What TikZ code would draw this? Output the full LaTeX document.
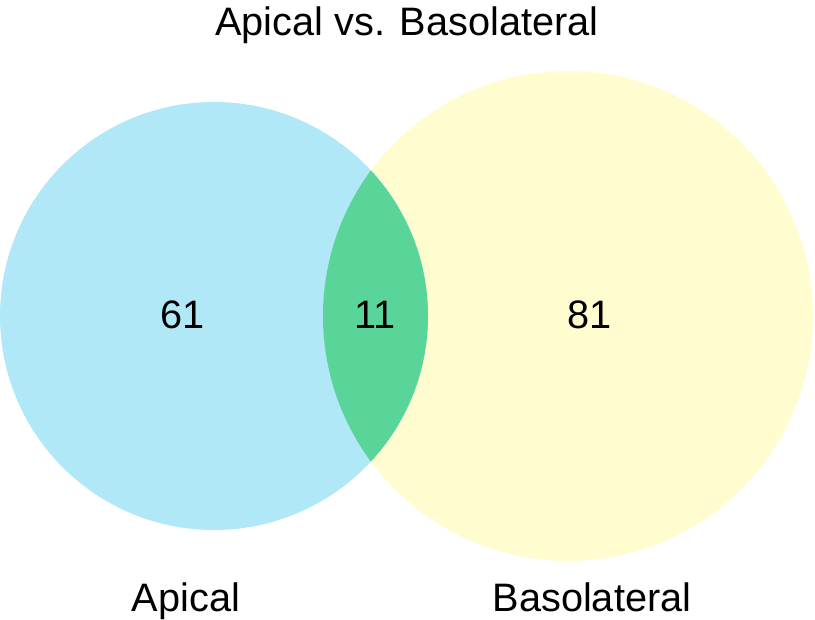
\documentclass[tikz,border=0pt]{standalone}
\usepackage{fontspec}
\setmainfont{Liberation Sans}
\usetikzlibrary{positioning}
\definecolor{apicalblue}{RGB}{176,232,248}
\definecolor{basoyellow}{RGB}{255,253,207}
\definecolor{overlapgreen}{RGB}{90,213,154}

\begin{document}
\begin{tikzpicture}[x=1pt, y=-1pt,
    vtext/.style={font=\fontsize{39.7}{48}\selectfont, inner sep=0pt, anchor=base}]
        \useasboundingbox (0,0) rectangle (815,620);

        % Circle centres
        \coordinate (apical) at (214,316);
        \coordinate (baso) at (568,316);

        % Sets
        \fill [basoyellow] (baso) circle [radius=245pt];
        \fill [apicalblue] (apical) circle [radius=214pt];

        % Overlap
        \begin{scope}
            \clip (apical) circle [radius=214pt];
            \fill [overlapgreen] (baso) circle [radius=245pt];
        \end{scope}

        % Counts
        \node [vtext] (onlyA) at (183,329) {61};
        \node [vtext] (both) at (375,329) {11};
        \node [vtext] (onlyB) at (590,329) {81};

        % Titles
        \node [vtext] (title) at (407,36) {Apical vs. Basolateral};
        \node [vtext] (nameA) at (186,612) {Apical};
        \node [vtext] (nameB) at (592,612) {Basolateral};
    \end{tikzpicture}
\end{document}
